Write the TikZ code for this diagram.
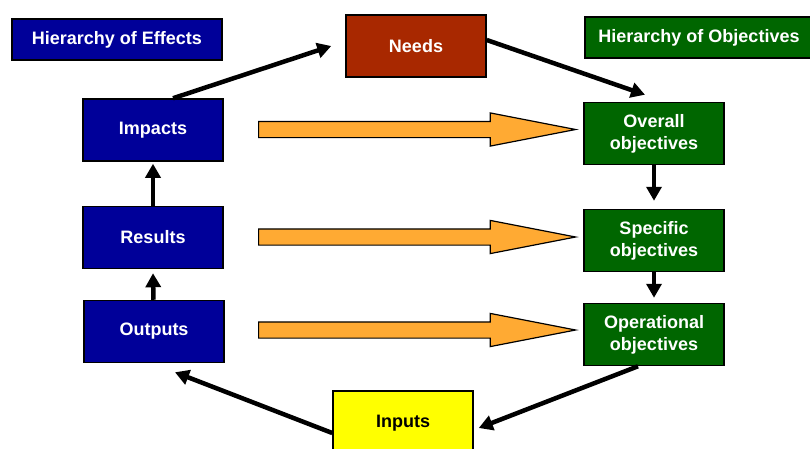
\documentclass[tikz,border=0pt]{standalone}
\usepackage{fontspec}
\setmainfont{Liberation Sans}
\usetikzlibrary{arrows.meta,shapes.arrows}
\definecolor{effblue}{RGB}{0,0,153}
\definecolor{objgreen}{RGB}{0,102,0}
\definecolor{needred}{RGB}{168,40,0}
\definecolor{flowor}{RGB}{255,170,51}
\definecolor{inyellow}{RGB}{255,255,0}
\begin{document}
\begin{tikzpicture}[x=1pt,y=-1pt,
    box/.style={draw=black,line width=1.5pt,minimum width=140pt,minimum height=62pt,
      inner sep=0pt,align=center,text=white,font=\fontsize{18}{22}\selectfont\bfseries},
    title/.style={box,minimum height=41pt},
    effect/.style={box,fill=effblue},
    objective/.style={box,fill=objgreen},
    link/.style={line width=4.5pt,-{Triangle[length=14pt,width=15pt]}},
    bigarrow/.style={single arrow,draw=black,line width=1.2pt,fill=flowor,inner sep=0pt,
      minimum height=317pt,single arrow head extend=8.5pt,single arrow tip angle=22,
      anchor=tail}]
  \useasboundingbox (0,0) rectangle (810,448);
  \clip (0,0) rectangle (810,448);

  \node[title,fill=effblue,minimum width=210pt] (effects) at (117,39.5) {Hierarchy of Effects};
  \node[title,fill=objgreen,minimum width=228pt] (objectives) at (699,37.5) {Hierarchy of Objectives};

  \node[box,fill=needred] (needs) at (416,46) {Needs};
  \node[box,fill=inyellow,text=black,minimum height=64pt] (inputs) at (403,423) {Inputs};

  \node[effect] (impacts) at (153,130) {Impacts};
  \node[effect] (results) at (153,237.5) {Results};
  \node[effect] (outputs) at (154,331.5) {Outputs};

  \node[objective] (overall) at (654,133.5) {Overall\\objectives};
  \node[objective] (specific) at (654,240.5) {Specific\\objectives};
  \node[objective] (operational) at (654,334.5) {Operational\\objectives};

  \node[bigarrow] (flowA) at (258,129.5) {\rule{0pt}{15pt}};
  \node[bigarrow] (flowB) at (258,237) {\rule{0pt}{15pt}};
  \node[bigarrow] (flowC) at (258,330) {\rule{0pt}{15pt}};

  \draw[link] ([xshift=20pt]impacts.north) -- ([xshift=-14pt]needs.west);
  \draw[link] ([yshift=6pt]needs.east) -- ([xshift=-9pt,yshift=7pt]overall.north);
  \draw[link] (overall) -- ([yshift=8pt]specific.north);
  \draw[link] (specific) -- ([yshift=5pt]operational.north);
  \draw[link] ([xshift=-16pt]operational.south) -- ([xshift=5pt,yshift=-5pt]inputs.east);
  \draw[link] ([yshift=-10pt]inputs.west) -- ([xshift=21pt,yshift=-9pt]outputs.south);
  \draw[link] (outputs) -- ([yshift=-4pt]results.south);
  \draw[link] (results) -- ([yshift=-2pt]impacts.south);
\end{tikzpicture}
\end{document}
